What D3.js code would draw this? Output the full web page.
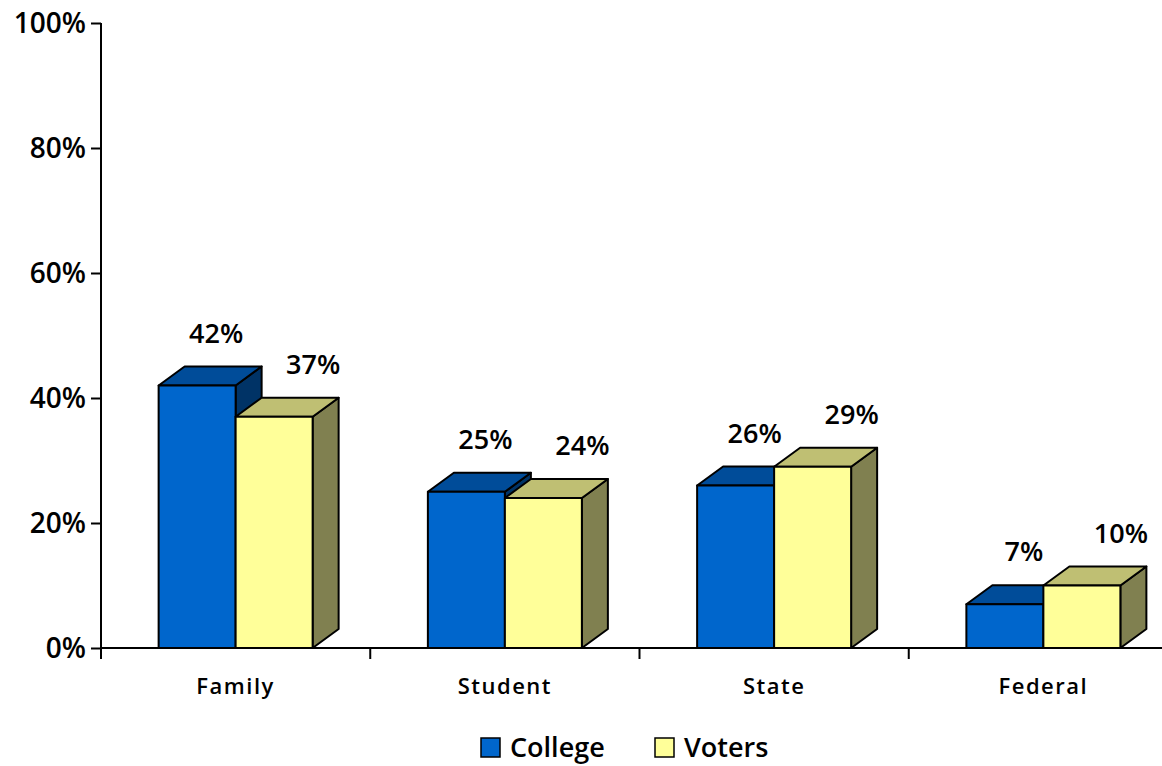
<!DOCTYPE html>
<html><head><meta charset="utf-8">
<script src="https://cdn.jsdelivr.net/npm/d3@7"></script>
<style>body{margin:0;background:#fff}svg{display:block}text{font-family:"Open Sans",sans-serif;fill:#000}</style>
</head><body><svg id="c" width="1162" height="766"></svg>
<script>
const categories = ["Family","Student","State","Federal"];
const seriesNames = ["College","Voters"];
const college = [42,25,26,7];
const voters = [37,24,29,10];
const yTicks = [0,20,40,60,80,100];

const svg = d3.select("#c");
const x0 = d3.scaleBand().domain(categories).range([101,1178]).padding(0);
const y = d3.scaleLinear().domain([0,100]).range([648,23]);
const x1 = d3.scaleBand().domain(seriesNames).range([0,154]);
const dx = 26, dy = -19;
const colors = {
  College:{front:"#0066CC",top:"#004C99",side:"#003366"},
  Voters:{front:"#FFFF99",top:"#BFBF73",side:"#808050"}
};
const labelOff = {College:19, Voters:39};

// axes
const yAxis = svg.append("g").attr("transform","translate(101,0)")
  .call(d3.axisLeft(y).tickValues(yTicks).tickSize(10).tickPadding(5).tickFormat(d=>d+"%"));
yAxis.select(".domain").attr("d","M0,23V659").attr("stroke","#000").attr("stroke-width",2);
yAxis.selectAll(".tick line").attr("stroke","#000").attr("stroke-width",2);
yAxis.selectAll(".tick text").attr("font-size",28).attr("font-weight",600).attr("dy","0.35em");

const xAxis = svg.append("g").attr("transform","translate(0,648)");
xAxis.append("line").attr("x1",101).attr("x2",1162).attr("y1",0).attr("y2",0).attr("stroke","#000").attr("stroke-width",2);
xAxis.selectAll("line.t").data(categories).enter().append("line").attr("class","t")
  .attr("x1",d=>x0(d)+x0.bandwidth()).attr("x2",d=>x0(d)+x0.bandwidth()).attr("y1",0).attr("y2",11)
  .attr("stroke","#000").attr("stroke-width",2);
xAxis.selectAll("text").data(categories).enter().append("text")
  .attr("x",d=>x0(d)+x0.bandwidth()/2).attr("y",46).attr("text-anchor","middle")
  .attr("font-size",22).attr("font-weight",600).attr("letter-spacing",1.5).text(d=>d);

// bars
const data = [];
categories.forEach((c,i)=>{
  data.push({cat:c,s:"College",v:college[i]});
  data.push({cat:c,s:"Voters",v:voters[i]});
});
const g = svg.append("g");
data.forEach(d=>{
  const xl = x0(d.cat) + (x0.bandwidth()-x1.range()[1])/2 + x1(d.s);
  const w = x1.bandwidth();
  const yt = y(d.v), yb = y(0);
  const col = colors[d.s];
  const bg = g.append("g").attr("stroke","#000").attr("stroke-width",2).attr("stroke-linejoin","round");
  bg.append("path").attr("d",`M${xl+w},${yb}L${xl+w+dx},${yb+dy}L${xl+w+dx},${yt+dy}L${xl+w},${yt}Z`).attr("fill",col.side);
  bg.append("path").attr("d",`M${xl},${yt}L${xl+dx},${yt+dy}L${xl+w+dx},${yt+dy}L${xl+w},${yt}Z`).attr("fill",col.top);
  bg.append("rect").attr("x",xl).attr("y",yt).attr("width",w).attr("height",yb-yt).attr("fill",col.front);
  g.append("text").attr("x",xl+w/2+labelOff[d.s]).attr("y",yt+dy-24).attr("text-anchor","middle")
    .attr("font-size",27).attr("font-weight",600).text(d.v+"%");
});

// legend
const leg = svg.append("g");
const legItems = [{s:"College",x:481},{s:"Voters",x:655}];
legItems.forEach(it=>{
  leg.append("rect").attr("x",it.x).attr("y",738).attr("width",19).attr("height",19)
    .attr("fill",colors[it.s].front).attr("stroke","#000").attr("stroke-width",1.5);
  leg.append("text").attr("x",it.x+29).attr("y",757).attr("font-size",27).attr("font-weight",600).text(it.s);
});
</script></body></html>
